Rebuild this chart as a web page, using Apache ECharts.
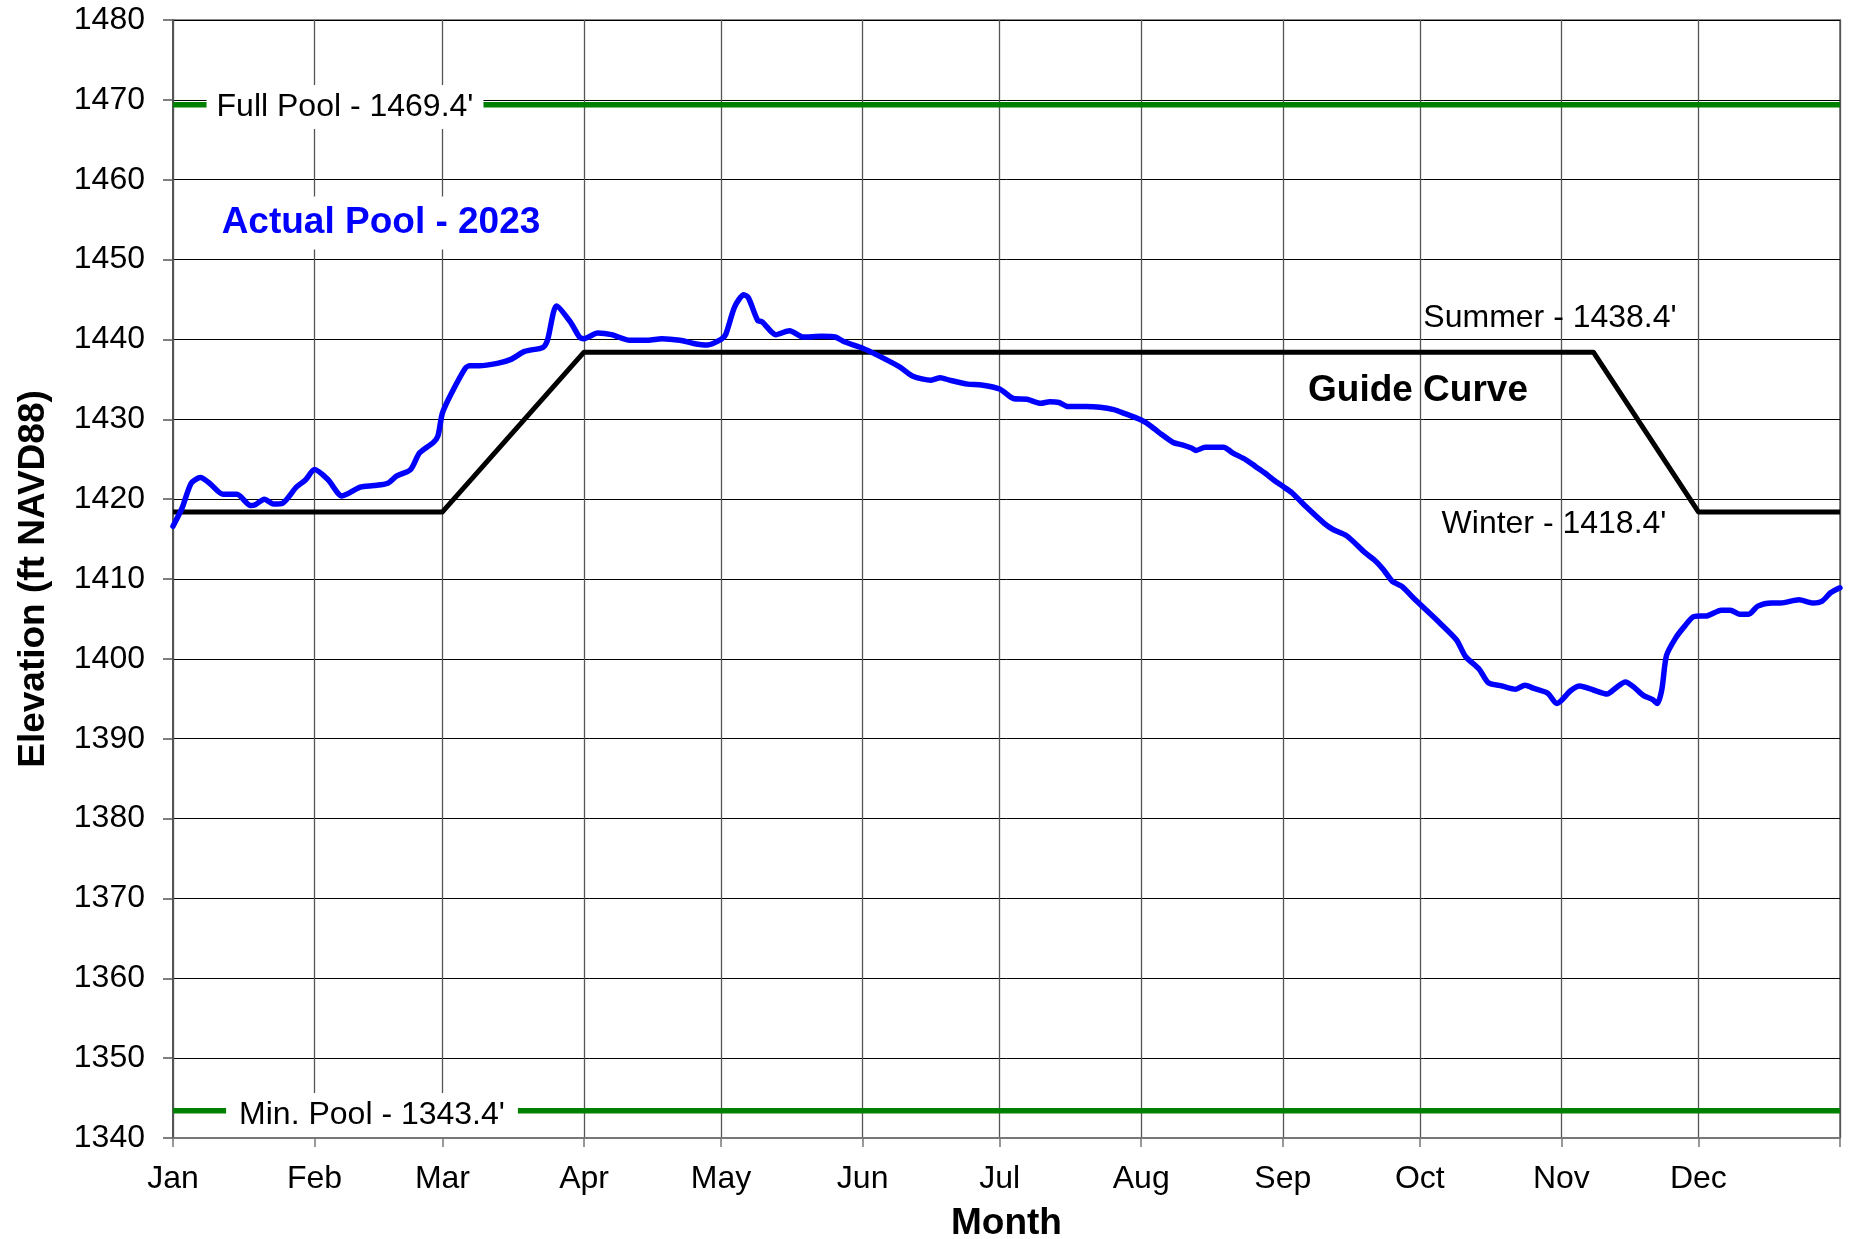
<!DOCTYPE html>
<html>
<head>
<meta charset="utf-8">
<script src="https://cdn.jsdelivr.net/npm/echarts@6/dist/echarts.min.js"></script>
<style>
  html, body { margin: 0; padding: 0; background: #fff; }
  #chart { width: 1849px; height: 1239px; }
</style>
</head>
<body>
<div id="chart"></div>
<script>
// ---- Data ----
const monthNames = ['Jan','Feb','Mar','Apr','May','Jun','Jul','Aug','Sep','Oct','Nov','Dec'];
const monthStartDays = [0, 31, 59, 90, 120, 151, 181, 212, 243, 273, 304, 334];
const yearEndDay = 365;
const yTicks = { min: 1340, max: 1480, step: 10 };

const fullPool = 1469.4;
const minPool = 1343.4;

// Guide curve: [day of year, elevation]
const guideDays   = [0, 59, 90, 311, 334, 365];
const guideValues = [1418.4, 1418.4, 1438.4, 1438.4, 1418.4, 1418.4];

// Actual pool 2023: [day of year, elevation]
const actualDays = [
  0, 2, 4, 6, 8, 11, 14, 17, 18, 20, 22, 24, 27, 29, 31, 34, 37, 41, 44, 47,
  49, 52, 54, 57, 58, 59, 61, 64, 65, 67, 71, 74, 77, 81, 82, 84, 87, 89, 90, 93,
  96, 100, 104, 107, 111, 114, 117, 120, 121, 123, 125, 126, 128, 129, 132, 135, 138, 142, 145, 147,
  151, 154, 159, 162, 166, 168, 170, 174, 177, 181, 184, 187, 190, 192, 194, 196, 200, 203, 206, 208,
  212, 214, 216, 219, 221, 223, 224, 226, 230, 232, 235, 237, 239, 241, 243, 245, 248, 252, 254, 257,
  261, 263, 265, 267, 269, 272, 277, 281, 283, 286, 288, 291, 294, 296, 298, 301, 303, 306, 308, 311,
  314, 316, 318, 320, 322, 324, 325, 326, 327, 329, 331, 333, 336, 339, 341, 343, 345, 347, 350, 352,
  356, 359, 361, 363, 365
];
const actualValues = [
  1416.6, 1418.9, 1422.0, 1422.7, 1422.0, 1420.6, 1420.6, 1419.2, 1419.3, 1420.0, 1419.4, 1419.5, 1421.5, 1422.4, 1423.7, 1422.4, 1420.4, 1421.5, 1421.7, 1422.0,
  1422.9, 1423.7, 1425.8, 1427.1, 1427.9, 1430.8, 1433.3, 1436.4, 1436.7, 1436.7, 1437.0, 1437.5, 1438.5, 1439.0, 1439.9, 1444.2, 1442.2, 1440.3, 1440.1, 1440.8,
  1440.6, 1439.9, 1439.9, 1440.1, 1439.9, 1439.5, 1439.3, 1440.0, 1440.6, 1444.1, 1445.6, 1445.2, 1442.4, 1442.2, 1440.6, 1441.1, 1440.3, 1440.4, 1440.3, 1439.7,
  1438.9, 1438.1, 1436.6, 1435.4, 1434.9, 1435.2, 1434.9, 1434.4, 1434.3, 1433.8, 1432.6, 1432.5, 1432.0, 1432.2, 1432.1, 1431.6, 1431.6, 1431.5, 1431.2, 1430.8,
  1429.9, 1429.2, 1428.3, 1427.1, 1426.8, 1426.4, 1426.1, 1426.5, 1426.5, 1425.8, 1424.9, 1424.1, 1423.3, 1422.4, 1421.6, 1420.8, 1419.1, 1417.0, 1416.2, 1415.4,
  1413.3, 1412.4, 1411.2, 1409.7, 1409.1, 1407.4, 1404.7, 1402.4, 1400.3, 1398.7, 1397.0, 1396.6, 1396.2, 1396.7, 1396.3, 1395.7, 1394.4, 1396.0, 1396.6, 1396.1,
  1395.6, 1396.4, 1397.1, 1396.4, 1395.4, 1394.9, 1394.4, 1396.2, 1400.4, 1402.6, 1404.1, 1405.3, 1405.4, 1406.1, 1406.1, 1405.6, 1405.6, 1406.6, 1407.0, 1407.0,
  1407.4, 1407.0, 1407.2, 1408.3, 1408.9
];

// ---- Build ----
const FONT = "'Liberation Sans', Arial, Helvetica, sans-serif";
const days = [];
for (let i = 0; i <= yearEndDay; i++) days.push(String(i));
const labelSet = new Set(monthStartDays);
const tickSet = new Set(monthStartDays.concat([yearEndDay]));
const pairs = (xs, ys) => xs.map((x, i) => [x, ys[i]]);

const chart = echarts.init(document.getElementById('chart'), null, { renderer: 'canvas' });
chart.setOption({
  animation: false,
  backgroundColor: '#ffffff',
  grid: {
    left: 173, right: 9, top: 20, bottom: 101,
    containLabel: false, outerBoundsMode: 'none',
    show: true, borderColor: '#888', borderWidth: 2, backgroundColor: 'transparent'
  },
  xAxis: {
    type: 'category',
    data: days,
    boundaryGap: false,
    name: 'Month',
    nameLocation: 'middle',
    nameGap: 67,
    nameTextStyle: { fontFamily: FONT, fontSize: 37, fontWeight: 'bold', color: '#000' },
    axisLine: { show: true, lineStyle: { color: '#777', width: 2 } },
    axisTick: { show: true, length: 9, interval: (i) => tickSet.has(i), lineStyle: { color: '#777', width: 1.5 } },
    axisLabel: {
      interval: (i) => labelSet.has(i),
      formatter: (v) => monthNames[monthStartDays.indexOf(Number(v))] || '',
      fontFamily: FONT, fontSize: 32, color: '#000', margin: 25
    },
    splitLine: { show: true, interval: (i) => tickSet.has(i), lineStyle: { color: '#555', width: 1.3 } }
  },
  yAxis: {
    type: 'value',
    min: yTicks.min, max: yTicks.max, interval: yTicks.step,
    name: 'Elevation (ft NAVD88)',
    nameLocation: 'middle',
    nameRotate: 90,
    nameGap: 121,
    nameTextStyle: { fontFamily: FONT, fontSize: 37, fontWeight: 'bold', color: '#000' },
    axisLine: { show: true, lineStyle: { color: '#555', width: 2 } },
    axisTick: { show: true, length: 10, lineStyle: { color: '#555', width: 1.5 } },
    axisLabel: { fontFamily: FONT, fontSize: 32, color: '#000', margin: 28, formatter: (v) => String(v) },
    splitLine: { show: true, lineStyle: { color: '#000', width: 1 } }
  },
  series: [
    {
      name: 'Full Pool', type: 'line', symbol: 'none', z: 3,
      lineStyle: { color: '#008000', width: 5.5 },
      data: [[0, fullPool], [yearEndDay, fullPool]]
    },
    {
      name: 'Min Pool', type: 'line', symbol: 'none', z: 3,
      lineStyle: { color: '#008000', width: 5.5 },
      data: [[0, minPool], [yearEndDay, minPool]]
    },
    {
      name: 'Guide Curve', type: 'line', symbol: 'none', z: 4,
      lineStyle: { color: '#000', width: 5, join: 'round' },
      data: pairs(guideDays, guideValues)
    },
    {
      name: 'Actual Pool - 2023', type: 'line', symbol: 'none', z: 5, smooth: 0.25,
      lineStyle: { color: '#0000ff', width: 5.5, cap: 'round', join: 'round' },
      data: pairs(actualDays, actualValues)
    }
  ],
  graphic: [
    {
      type: 'text', x: 345, y: 107, z: 100,
      style: {
        text: "Full Pool - 1469.4'", font: "32px " + FONT, fill: '#000',
        align: 'center', verticalAlign: 'middle',
        backgroundColor: '#fff', padding: [6, 10, 6, 10]
      }
    },
    {
      type: 'text', x: 372, y: 1115, z: 100,
      style: {
        text: "Min. Pool - 1343.4'", font: "32px " + FONT, fill: '#000',
        align: 'center', verticalAlign: 'middle',
        backgroundColor: '#fff', padding: [6, 13, 6, 13]
      }
    },
    {
      type: 'text', x: 381, y: 223, z: 100,
      style: {
        text: 'Actual Pool - 2023', font: "bold 37px " + FONT, fill: '#0000ff',
        align: 'center', verticalAlign: 'middle',
        backgroundColor: '#fff', padding: [8, 16, 8, 16]
      }
    },
    {
      type: 'text', x: 1418, y: 391, z: 100,
      style: {
        text: 'Guide Curve', font: "bold 37px " + FONT, fill: '#000',
        align: 'center', verticalAlign: 'middle'
      }
    },
    {
      type: 'text', x: 1550, y: 318, z: 100,
      style: {
        text: "Summer - 1438.4'", font: "32px " + FONT, fill: '#000',
        align: 'center', verticalAlign: 'middle'
      }
    },
    {
      type: 'text', x: 1554, y: 524, z: 100,
      style: {
        text: "Winter - 1418.4'", font: "32px " + FONT, fill: '#000',
        align: 'center', verticalAlign: 'middle'
      }
    }
  ]
});
</script>
</body>
</html>
